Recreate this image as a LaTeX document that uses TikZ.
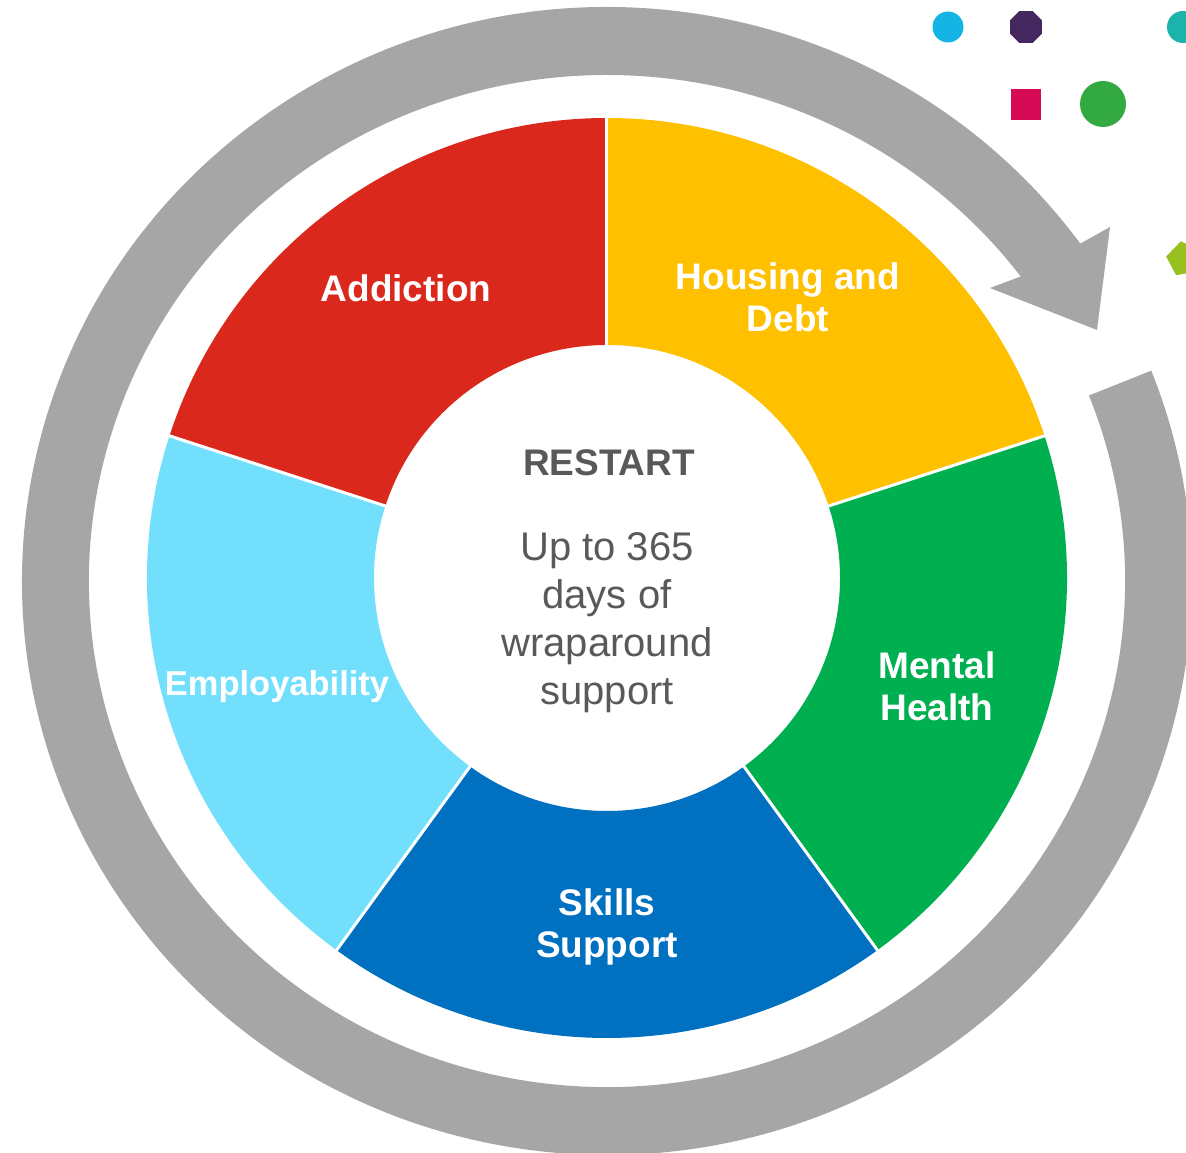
\documentclass[tikz,border=0pt]{standalone}
\usepackage{fontspec}
\setmainfont{Liberation Sans}
\usetikzlibrary{calc}
\definecolor{segred}{HTML}{DA291C}
\definecolor{segyellow}{HTML}{FFC000}
\definecolor{seggreen}{HTML}{00B050}
\definecolor{segblue}{HTML}{0070C0}
\definecolor{segcyan}{HTML}{72E0FC}
\definecolor{ringgray}{HTML}{A6A6A6}
\definecolor{txtgray}{HTML}{595959}
\definecolor{dotcyan}{HTML}{14B4E4}
\definecolor{dotpurple}{HTML}{44275F}
\definecolor{dotteal}{HTML}{1CB3AA}
\definecolor{dotmagenta}{HTML}{D60A55}
\definecolor{dotgreen}{HTML}{33A942}
\definecolor{dotlime}{HTML}{97C11F}
\begin{document}
\begin{tikzpicture}[x=1pt,y=1pt,
  seglabel/.style={text=white,font=\fontsize{37}{42}\selectfont\bfseries,align=center,inner sep=0pt},
  separator/.style={draw=white,line width=3pt}]
\useasboundingbox (-607,-575) rectangle (579,578);
% gray circular arrow
\begin{scope}[shift={(0,-3)}]
\fill[ringgray] (36:585 and 574)
  arc[start angle=36,end angle=381.5,x radius=585,y radius=574]
  -- (381.5:518 and 506)
  arc[start angle=381.5,end angle=37,x radius=518,y radius=506]
  -- (383,293) -- (490,251) -- (503,354) -- cycle;
\end{scope}
% segments
\fill[segyellow] (18:460) arc[start angle=18,end angle=90,radius=460] -- (90:233) arc[start angle=90,end angle=18,radius=233] -- cycle;
\fill[segred] (90:460) arc[start angle=90,end angle=162,radius=460] -- (162:233) arc[start angle=162,end angle=90,radius=233] -- cycle;
\fill[segcyan] (162:460) arc[start angle=162,end angle=234,radius=460] -- (234:233) arc[start angle=234,end angle=162,radius=233] -- cycle;
\fill[segblue] (234:460) arc[start angle=234,end angle=306,radius=460] -- (306:233) arc[start angle=306,end angle=234,radius=233] -- cycle;
\fill[seggreen] (306:460) arc[start angle=306,end angle=378,radius=460] -- (378:233) arc[start angle=378,end angle=306,radius=233] -- cycle;
\foreach \a in {18,90,162,234,306}{
  \draw[separator] (\a:228) -- (\a:464);
}
% labels
\node[seglabel] (addiction) at (-201,290) {Addiction};
\node[seglabel] (housing) at (181,281) {Housing and\\Debt};
\node[seglabel] (mental) at (330,-108) {Mental\\Health};
\node[seglabel] (skills) at (0,-349) {Skills\\Support};
\node[seglabel,font=\fontsize{34.5}{42}\selectfont\bfseries] (employ) at (-330,-109) {Employability};
\node[text=txtgray,font=\fontsize{37}{42}\selectfont\bfseries,inner sep=0pt] (restart) at (2,115) {RESTART};
\node[text=txtgray,font=\fontsize{40}{48}\selectfont,align=center,inner sep=0pt] (body) at (0,-45) {Up to 365\\days of\\wraparound\\support};
% decorative shapes
\fill[dotcyan] (341,551) circle[radius=15.5];
\fill[dotpurple] ($(419,551)+(22.5:17.3)$)
  \foreach \k in {1,...,7}{ -- ($(419,551)+(22.5+45*\k:17.3)$) } -- cycle;
\fill[dotteal] (576,551) circle[radius=16];
\fill[dotmagenta] (404,458) rectangle (434,489);
\fill[dotgreen] (496,474) circle[radius=23];
\fill[dotlime] ($(577,319)+(100:18)$)
  \foreach \k in {1,...,4}{ -- ($(577,319)+(100+72*\k:18)$) } -- cycle;
\end{tikzpicture}
\end{document}
